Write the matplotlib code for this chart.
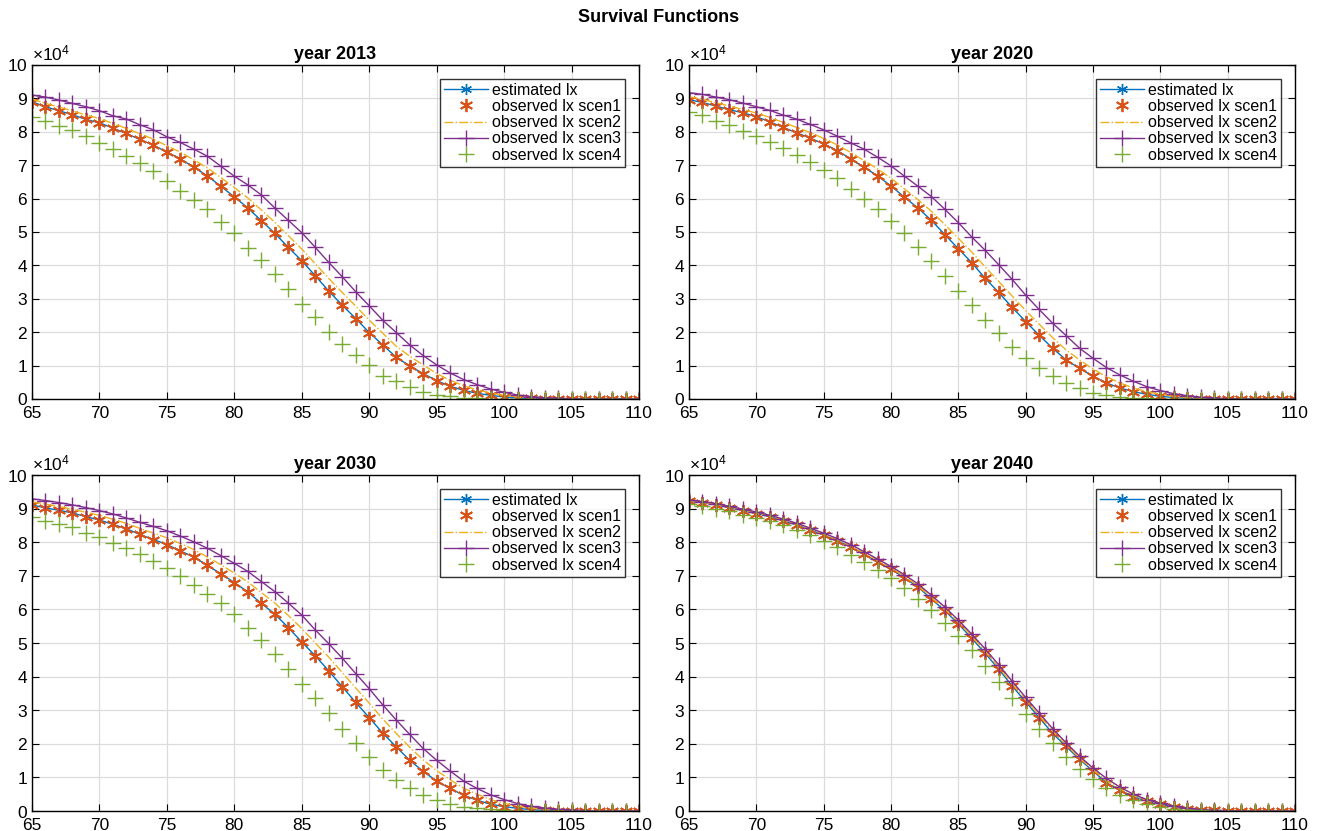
import matplotlib
matplotlib.use("Agg")
import matplotlib.pyplot as plt
import numpy as np
from matplotlib.ticker import ScalarFormatter

plt.rcParams['font.family'] = ['Liberation Sans', 'DejaVu Sans']
plt.rcParams['mathtext.fontset'] = 'custom'
plt.rcParams['mathtext.rm'] = 'Liberation Sans'

# ages 65..110
ages = list(range(65, 111))
years = ["year 2013", "year 2020", "year 2030", "year 2040"]
labels = ["estimated lx", "observed lx scen1", "observed lx scen2",
          "observed lx scen3", "observed lx scen4"]

# values in units of 10^4
est_2013 = [8.90, 8.75, 8.63, 8.51, 8.37, 8.27, 8.11, 7.95, 7.77, 7.60,
            7.39, 7.19, 6.94, 6.68, 6.37, 6.05, 5.72, 5.34, 4.96, 4.54,
            4.14, 3.69, 3.23, 2.81, 2.41, 1.99, 1.62, 1.25, 0.99, 0.76,
            0.55, 0.38, 0.26, 0.17, 0.11, 0.06, 0.03, 0.015, 0.005, 0.002,
            0, 0, 0, 0, 0, 0]
sc2_2013 = [8.98, 8.85, 8.74, 8.63, 8.50, 8.40, 8.25, 8.10, 7.94, 7.78,
            7.58, 7.39, 7.16, 6.92, 6.63, 6.33, 6.02, 5.66, 5.29, 4.89,
            4.49, 4.05, 3.61, 3.19, 2.78, 2.36, 1.97, 1.58, 1.28, 1.02,
            0.76, 0.56, 0.40, 0.27, 0.18, 0.11, 0.06, 0.03, 0.015, 0.005,
            0, 0, 0, 0, 0, 0]
sc3_2013 = [9.10, 9.04, 8.95, 8.85, 8.75, 8.63, 8.48, 8.38, 8.21, 8.06,
            7.85, 7.68, 7.48, 7.27, 6.97, 6.67, 6.41, 6.11, 5.72, 5.35,
            4.98, 4.54, 4.09, 3.66, 3.21, 2.79, 2.36, 1.99, 1.62, 1.30,
            1.02, 0.78, 0.58, 0.43, 0.30, 0.20, 0.12, 0.07, 0.04, 0.02,
            0.01, 0, 0, 0, 0, 0]
sc4_2013 = [8.45, 8.33, 8.16, 8.04, 7.87, 7.65, 7.49, 7.28, 7.07, 6.82,
            6.53, 6.24, 5.96, 5.68, 5.30, 4.96, 4.52, 4.15, 3.73, 3.28,
            2.85, 2.45, 2.02, 1.65, 1.31, 1.01, 0.70, 0.53, 0.35, 0.21,
            0.13, 0.08, 0.04, 0.02, 0.01, 0, 0, 0, 0, 0,
            0, 0, 0, 0, 0, 0]

est_2020 = [8.96, 8.88, 8.77, 8.66, 8.57, 8.45, 8.30, 8.13, 7.97, 7.81,
            7.64, 7.44, 7.19, 6.94, 6.68, 6.38, 6.04, 5.72, 5.35, 4.92,
            4.50, 4.08, 3.61, 3.19, 2.74, 2.32, 1.91, 1.52, 1.17, 0.92,
            0.68, 0.48, 0.33, 0.22, 0.14, 0.08, 0.045, 0.02, 0.01, 0.004,
            0, 0, 0, 0, 0, 0]
sc2_2020 = [9.05, 8.97, 8.87, 8.77, 8.67, 8.56, 8.43, 8.28, 8.13, 7.98,
            7.80, 7.61, 7.38, 7.14, 6.89, 6.61, 6.29, 5.97, 5.62, 5.22,
            4.81, 4.40, 3.95, 3.52, 3.08, 2.65, 2.24, 1.84, 1.47, 1.17,
            0.90, 0.67, 0.48, 0.33, 0.22, 0.14, 0.08, 0.04, 0.02, 0.01,
            0, 0, 0, 0, 0, 0]
sc3_2020 = [9.17, 9.12, 9.04, 8.96, 8.86, 8.75, 8.64, 8.50, 8.38, 8.22,
            8.06, 7.87, 7.67, 7.48, 7.24, 6.98, 6.67, 6.37, 6.06, 5.68,
            5.28, 4.85, 4.45, 4.02, 3.58, 3.11, 2.68, 2.27, 1.90, 1.52,
            1.22, 0.94, 0.72, 0.53, 0.37, 0.25, 0.16, 0.10, 0.05, 0.03,
            0.01, 0, 0, 0, 0, 0]
sc4_2020 = [8.58, 8.49, 8.33, 8.21, 8.03, 7.87, 7.68, 7.51, 7.32, 7.11,
            6.86, 6.61, 6.28, 6.00, 5.69, 5.34, 4.97, 4.54, 4.13, 3.69,
            3.23, 2.81, 2.37, 1.98, 1.57, 1.22, 0.92, 0.68, 0.48, 0.32,
            0.18, 0.13, 0.07, 0.04, 0.02, 0.01, 0, 0, 0, 0,
            0, 0, 0, 0, 0, 0]

est_2030 = [9.11, 9.02, 8.95, 8.87, 8.76, 8.66, 8.53, 8.40, 8.23, 8.08,
            7.93, 7.74, 7.56, 7.31, 7.06, 6.80, 6.52, 6.18, 5.86, 5.46,
            5.03, 4.62, 4.17, 3.70, 3.23, 2.78, 2.32, 1.91, 1.51, 1.18,
            0.89, 0.67, 0.47, 0.32, 0.20, 0.13, 0.08, 0.04, 0.02, 0.01,
            0, 0, 0, 0, 0, 0]
sc2_2030 = [9.20, 9.13, 9.06, 8.98, 8.89, 8.80, 8.68, 8.56, 8.41, 8.27,
            8.13, 7.96, 7.78, 7.56, 7.33, 7.08, 6.82, 6.50, 6.19, 5.82,
            5.43, 5.00, 4.58, 4.12, 3.66, 3.21, 2.74, 2.31, 1.90, 1.52,
            1.20, 0.93, 0.68, 0.50, 0.34, 0.23, 0.15, 0.09, 0.05, 0.03,
            0.01, 0, 0, 0, 0, 0]
sc3_2030 = [9.29, 9.24, 9.18, 9.11, 9.03, 8.94, 8.84, 8.72, 8.59, 8.47,
            8.34, 8.18, 8.01, 7.82, 7.60, 7.37, 7.13, 6.83, 6.53, 6.19,
            5.83, 5.39, 4.98, 4.55, 4.09, 3.64, 3.16, 2.71, 2.28, 1.86,
            1.51, 1.19, 0.89, 0.67, 0.48, 0.34, 0.22, 0.14, 0.09, 0.05,
            0.03, 0.01, 0, 0, 0, 0]
sc4_2030 = [8.76, 8.64, 8.55, 8.44, 8.26, 8.14, 7.99, 7.83, 7.65, 7.43,
            7.23, 6.98, 6.73, 6.45, 6.18, 5.86, 5.46, 5.08, 4.67, 4.23,
            3.79, 3.36, 2.91, 2.45, 2.03, 1.61, 1.21, 0.92, 0.68, 0.48,
            0.32, 0.20, 0.12, 0.08, 0.05, 0.02, 0.01, 0, 0, 0,
            0, 0, 0, 0, 0, 0]

est_2040 = [9.22, 9.18, 9.11, 9.03, 8.94, 8.85, 8.76, 8.64, 8.51, 8.37,
            8.21, 8.05, 7.86, 7.64, 7.42, 7.20, 6.94, 6.67, 6.31, 5.96,
            5.57, 5.14, 4.69, 4.22, 3.72, 3.25, 2.78, 2.31, 1.92, 1.54,
            1.19, 0.84, 0.62, 0.43, 0.29, 0.20, 0.12, 0.07, 0.03, 0.015,
            0.005, 0, 0, 0, 0, 0]
sc2_2040 = [9.23, 9.19, 9.12, 9.05, 8.96, 8.87, 8.78, 8.66, 8.53, 8.39,
            8.24, 8.08, 7.89, 7.68, 7.46, 7.24, 6.98, 6.71, 6.36, 6.01,
            5.62, 5.20, 4.75, 4.28, 3.79, 3.31, 2.85, 2.38, 1.97, 1.58,
            1.23, 0.90, 0.66, 0.46, 0.31, 0.21, 0.13, 0.07, 0.03, 0.015,
            0.005, 0, 0, 0, 0, 0]
sc3_2040 = [9.25, 9.21, 9.15, 9.07, 8.98, 8.90, 8.80, 8.69, 8.56, 8.42,
            8.27, 8.11, 7.93, 7.72, 7.50, 7.28, 7.03, 6.76, 6.42, 6.07,
            5.68, 5.26, 4.82, 4.35, 3.86, 3.38, 2.92, 2.45, 2.03, 1.63,
            1.28, 0.97, 0.71, 0.50, 0.34, 0.23, 0.14, 0.08, 0.04, 0.02,
            0.01, 0, 0, 0, 0, 0]
sc4_2040 = [9.15, 9.08, 9.00, 8.92, 8.82, 8.73, 8.63, 8.50, 8.35, 8.20,
            8.04, 7.85, 7.63, 7.42, 7.17, 6.92, 6.63, 6.32, 5.97, 5.60,
            5.20, 4.78, 4.32, 3.85, 3.36, 2.90, 2.44, 2.02, 1.62, 1.26,
            0.95, 0.68, 0.48, 0.32, 0.20, 0.12, 0.07, 0.04, 0.02, 0.01,
            0, 0, 0, 0, 0, 0]

# scen1 observations sit right on the estimated curve
sc1_2013 = est_2013
sc1_2020 = est_2020
sc1_2030 = est_2030
sc1_2040 = est_2040

panels = [
    (est_2013, sc1_2013, sc2_2013, sc3_2013, sc4_2013),
    (est_2020, sc1_2020, sc2_2020, sc3_2020, sc4_2020),
    (est_2030, sc1_2030, sc2_2030, sc3_2030, sc4_2030),
    (est_2040, sc1_2040, sc2_2040, sc3_2040, sc4_2040),
]

blue = '#0072BD'
orange = '#D95319'
yellow = '#EDB120'
purple = '#7E2F8E'
green = '#77AC30'

W, H = 1318, 831
fig = plt.figure(figsize=(W / 100, H / 100), dpi=100)

# axes boxes in pixels: left, top, right, bottom
boxes = [(32, 65, 639, 399), (689, 65, 1295, 399),
         (32, 475, 639, 811), (689, 475, 1295, 811)]

star = (6, 2, 0)  # matlab-ish asterisk
fs_tick = 12.5
fs_leg = 11.5
fs_title = 13
for i, (box, data) in enumerate(zip(boxes, panels)):
    l, t, r, b = box
    ax = fig.add_axes([l / W, 1 - b / H, (r - l) / W, (b - t) / H])
    x = np.array(ages)
    est, s1, s2, s3, s4 = [np.array(d) * 1e4 for d in data]
    ax.plot(x, est, '-', marker=star, color=blue, lw=1.0, ms=8, mew=1.0,
            label=labels[0])
    ax.plot(x, s1, ls='none', marker=star, color=orange, ms=9.5, mew=1.3,
            label=labels[1])
    ax.plot(x, s2, '-.', color=yellow, lw=1.0, label=labels[2])
    ax.plot(x, s3, '-+', color=purple, lw=1.0, ms=11, mew=1.0, label=labels[3])
    ax.plot(x, s4, '+', color=green, ms=11, mew=1.0, ls='none', label=labels[4])

    ax.set_xlim(65, 110)
    ax.set_ylim(0, 1e5)
    ax.set_xticks(range(65, 111, 5))
    ax.set_yticks(np.arange(0, 10.1, 1) * 1e4)
    fmt = ScalarFormatter(useMathText=True)
    fmt.set_powerlimits((4, 4))
    ax.yaxis.set_major_formatter(fmt)
    ax.yaxis.get_offset_text().set_fontsize(fs_tick)
    ax.tick_params(direction='in', top=True, right=True, labelsize=fs_tick,
                   length=5, width=0.8)
    ax.tick_params(axis='x', pad=5)
    ax.tick_params(axis='y', pad=3)
    ax.grid(True, color='#dcdcdc', lw=0.9)
    ax.set_axisbelow(True)
    for s in ax.spines.values():
        s.set_linewidth(1.0)
    ax.set_title(years[i], fontsize=fs_title, fontweight='bold', pad=4)
    leg = ax.legend(loc='upper right', fontsize=fs_leg, frameon=True,
                    fancybox=False, edgecolor='black', borderpad=0.25,
                    labelspacing=0.08, handlelength=2.75, handletextpad=0.25,
                    borderaxespad=0.85, numpoints=1)
    leg.get_frame().set_linewidth(1.0)

fig.text(0.5, 1 - 18 / H, "Survival Functions", ha='center', va='center',
         fontsize=fs_title, fontweight='bold')

fig.savefig('out.png', dpi=100)
